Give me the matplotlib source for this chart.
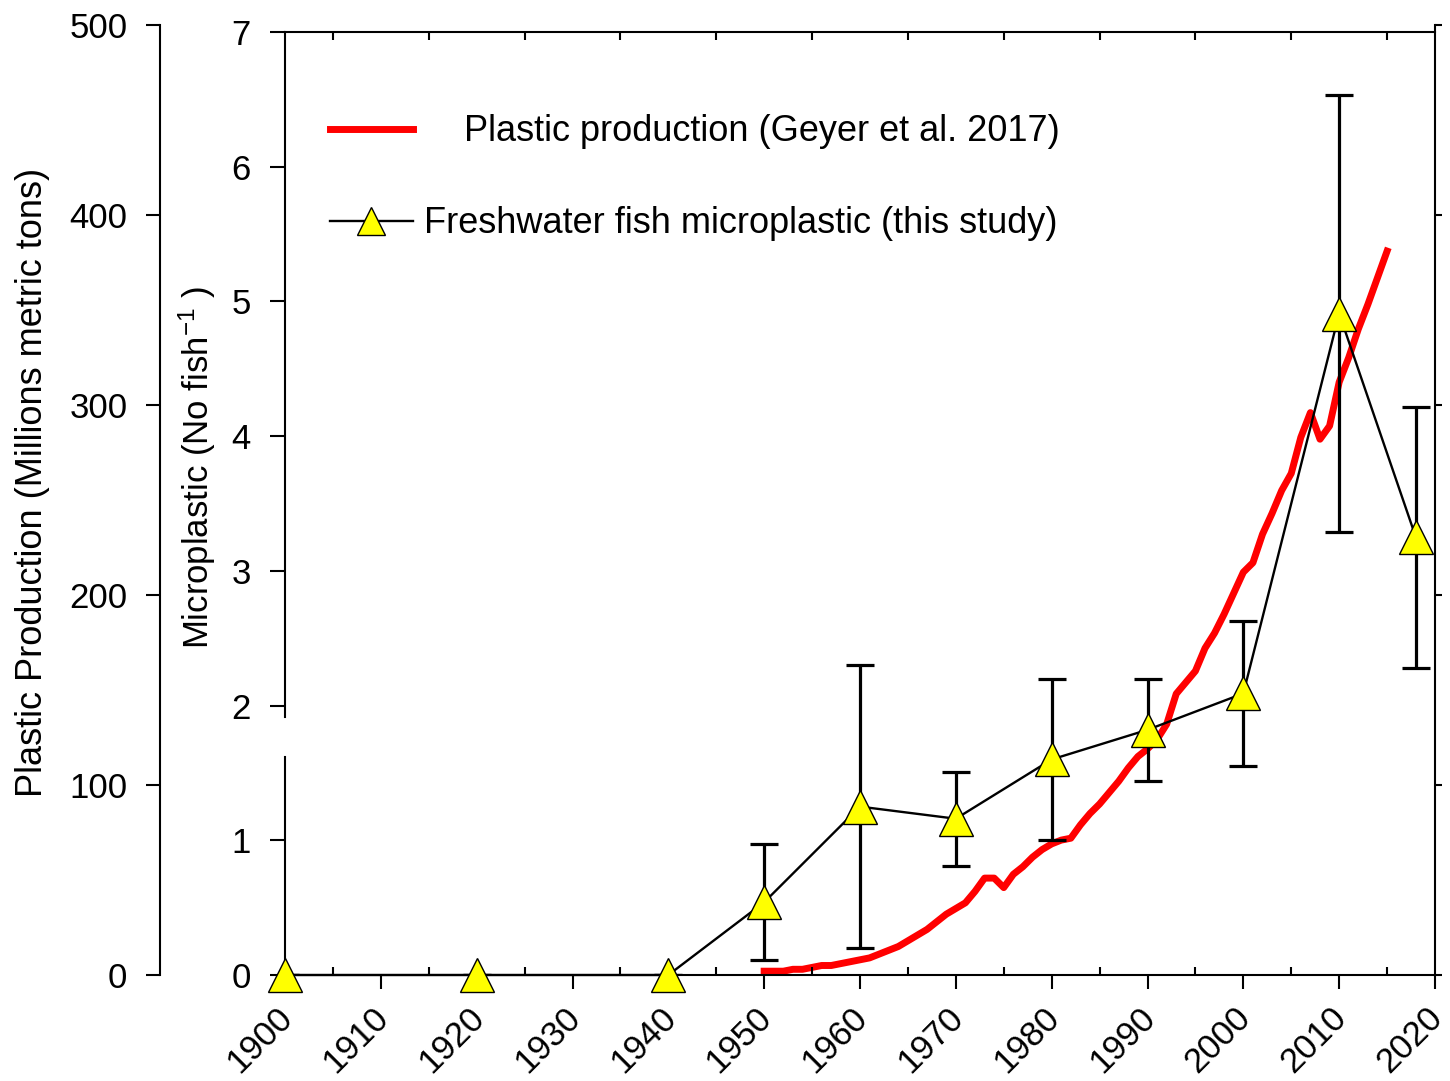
import matplotlib
matplotlib.use("Agg")
import matplotlib.pyplot as plt
from matplotlib.ticker import MultipleLocator

plt.rcParams['font.family'] = ['Liberation Sans', 'DejaVu Sans']
plt.rcParams['mathtext.default'] = 'regular'

# ---------------- data ----------------
prod_years = list(range(1950, 2016))
prod_values = [2, 2, 2, 3, 3, 4, 5, 5, 6, 7,
               8, 9, 11, 13, 15, 18, 21, 24, 28, 32,
               35, 38, 44, 51, 51, 46, 53, 57, 62, 66,
               69, 71, 72, 79, 85, 90, 96, 102, 109, 115,
               119, 124, 132, 148, 154, 160, 172, 180, 190, 201,
               212, 217, 232, 243, 255, 264, 283, 296, 282, 289,
               312, 325, 340, 353, 367, 381]

fish_years = [1900, 1920, 1940, 1950, 1960, 1970, 1980, 1990, 2000, 2010, 2018]
fish_mean = [0, 0, 0, 0.54, 1.25, 1.16, 1.60, 1.82, 2.09, 4.91, 3.25]
fish_err = [0, 0, 0, 0.43, 1.05, 0.35, 0.60, 0.38, 0.54, 1.62, 0.97]

x_ticks = list(range(1900, 2021, 10))
micro_ticks = [0, 1, 2, 3, 4, 5, 6, 7]
prod_ticks = [0, 100, 200, 300, 400, 500]

label_prod = 'Plastic production (Geyer et al. 2017)'
label_fish = 'Freshwater fish microplastic (this study)'

# ---------------- layout ----------------
W, H = 1450, 1081
fig = plt.figure(figsize=(W / 100, H / 100), dpi=100)
L = 285 / W
B = (H - 975) / H
Wd = 1150 / W
ax2 = fig.add_axes([L, B, Wd, 950 / H])
ax = fig.add_axes([L, B, Wd, 943 / H])
ax.set_zorder(ax2.get_zorder() + 1)
ax.patch.set_visible(False)

FS = 25
LW = 1.5

# ---------------- plastic production axis ----------------
red, = ax2.plot(prod_years, prod_values, color='#FF0000', lw=5)
ax2.set_xlim(1900, 2020)
ax2.set_ylim(0, 500)
ax2.set_xticks([])
for s in ('top', 'bottom', 'right'):
    ax2.spines[s].set_visible(False)
ax2.spines['left'].set_position(('outward', 90))
ax2.spines['left'].set_linewidth(LW)
ax2.set_yticks(prod_ticks)
ax2.tick_params(axis='y', direction='out', length=10, width=LW, pad=13.5,
                labelsize=FS)
ax2.set_ylabel('Plastic Production (Millions metric tons)', fontsize=26)
ax2.yaxis.set_label_coords(-0.204, 0.518)

sec = ax2.secondary_yaxis('right')
sec.set_yticks(prod_ticks)
sec.tick_params(direction='out', length=5, width=LW, labelright=False)
sec.spines['right'].set_linewidth(LW)

# ---------------- microplastic axis ----------------
ax.errorbar(fish_years, fish_mean, yerr=fish_err, fmt='none', ecolor='black',
            elinewidth=2.3, capsize=10, capthick=2.3, zorder=3)
line, = ax.plot(fish_years, fish_mean, color='black', lw=1.7, marker='^',
                ms=25, mfc='#FFFF00', mec='black', mew=1, zorder=4,
                clip_on=False)

ax.set_xlim(1900, 2020)
ax.set_ylim(0, 7)
ax.set_xticks(x_ticks)
ax.xaxis.set_minor_locator(MultipleLocator(5))
ax.tick_params(axis='x', which='major', direction='out', length=10, width=LW,
               bottom=True, top=False, labelsize=FS, pad=15)
ax.tick_params(axis='x', which='minor', direction='in', length=6, width=LW,
               bottom=True, top=True)
for lab in ax.get_xticklabels():
    lab.set_rotation(45)
    lab.set_ha('right')
    lab.set_va('center_baseline')
    lab.set_rotation_mode('anchor')

ax.set_yticks(micro_ticks)
ax.tick_params(axis='y', direction='out', length=11, width=LW, pad=13.5,
               labelsize=FS, left=True, right=False)
ax.spines['right'].set_visible(False)
ax.spines['top'].set_linewidth(LW)
ax.spines['bottom'].set_linewidth(LW)
ax.spines['left'].set_linewidth(LW)
ax.spines['left'].set_bounds(1.915, 7)
ax.plot([0, 0], [0, 1.62], transform=ax.get_yaxis_transform(), color='black',
        lw=LW, clip_on=False, zorder=2.5)

ax.set_ylabel(r'Microplastic (No fish$^{-1}$ )', fontsize=FS)
ax.yaxis.set_label_coords(-0.058, 0.538)

# ---------------- legend ----------------
ax.legend([red, line], ['    ' + label_prod, label_fish], loc='upper left',
          bbox_to_anchor=(0.039, 0.9126), frameon=False, fontsize=26,
          handlelength=2.3, handletextpad=0.3, labelspacing=1.58,
          borderpad=0, borderaxespad=0, markerscale=0.8)

fig.savefig('out.png', dpi=100)
